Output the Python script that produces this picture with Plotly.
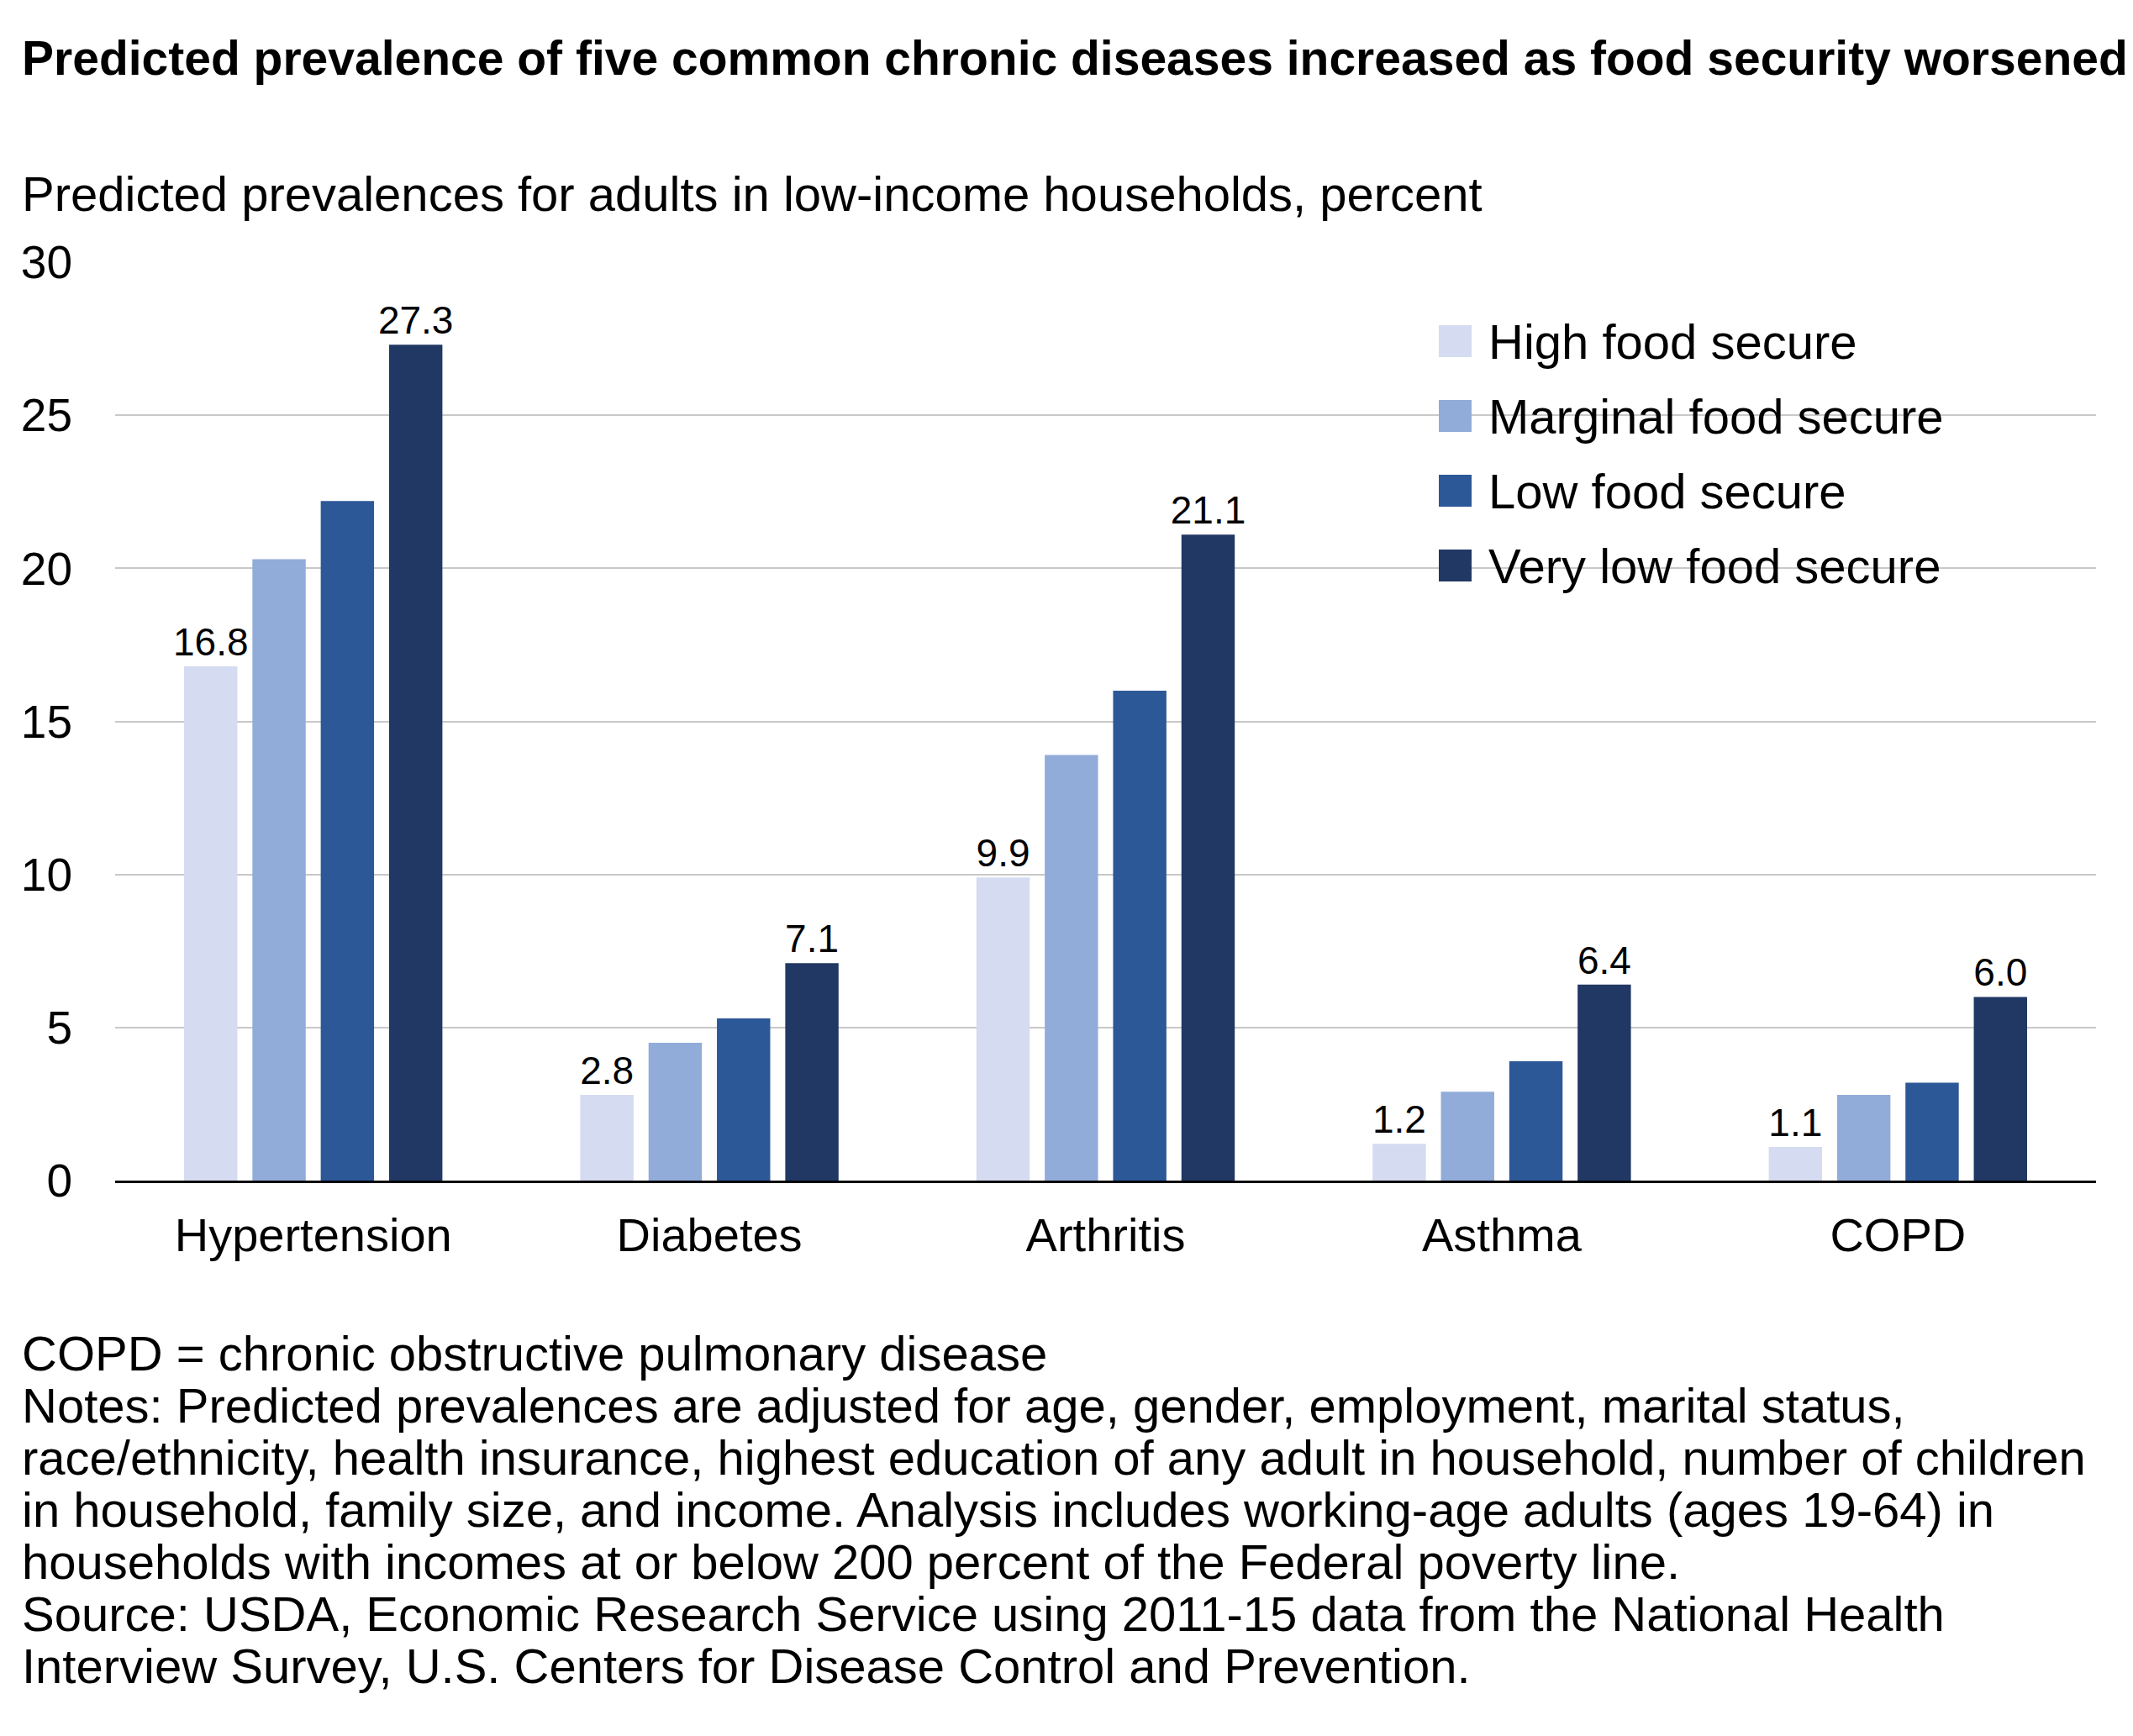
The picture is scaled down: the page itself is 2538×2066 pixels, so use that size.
import plotly.graph_objects as go

categories = ["Hypertension", "Diabetes", "Arthritis", "Asthma", "COPD"]
series_names = ["High food secure", "Marginal food secure", "Low food secure", "Very low food secure"]
high = [16.8, 2.8, 9.9, 1.2, 1.1]
marginal = [20.3, 4.5, 13.9, 2.9, 2.8]
low = [22.2, 5.3, 16.0, 3.9, 3.2]
very_low = [27.3, 7.1, 21.1, 6.4, 6.0]
colors = ["#d5dbf0", "#92acda", "#2c5898", "#213864"]
y_ticks = [0, 5, 10, 15, 20, 25, 30]
note_lines = [
    "COPD = chronic obstructive pulmonary disease",
    "Notes: Predicted prevalences are adjusted for age, gender, employment, marital status,",
    "race/ethnicity, health insurance, highest education of any adult in household, number of children",
    "in household, family size, and income. Analysis includes working-age adults (ages 19-64) in",
    "households with incomes at or below 200 percent of the Federal poverty line.",
    "Source: USDA, Economic Research Service using 2011-15 data from the National Health",
    "Interview Survey, U.S. Centers for Disease Control and Prevention.",
]

FONT = "Liberation Sans, Arial, sans-serif"
L, R, T, B = 129, 52, 304, 669
PW, PH = 2538 - L - R, 2066 - T - B
px = lambda X: (X - L) / PW
py = lambda Y: (2066 - B - Y) / PH

fig = go.Figure()
all_vals = [high, marginal, low, very_low]
for i, (name, vals) in enumerate(zip(series_names, all_vals)):
    show_text = i in (0, 3)
    fig.add_trace(go.Bar(
        x=categories, y=vals, name=name, marker_color=colors[i],
        marker_line_width=0, showlegend=False,
        text=[f"{v:.1f}" for v in vals] if show_text else None,
        textposition="outside", cliponaxis=False, constraintext="none",
        textfont=dict(size=46, color="black", family=FONT),
    ))

shapes, annotations = [], []
for i, name in enumerate(series_names):
    yc = 398 + 89 * i
    shapes.append(dict(type="rect", xref="paper", yref="paper",
                       x0=px(1704), x1=px(1743), y0=py(yc + 19), y1=py(yc - 19),
                       fillcolor=colors[i], line_width=0))
    annotations.append(dict(text=name, xref="paper", yref="paper", x=px(1761), y=py(yc),
                            xanchor="left", yanchor="middle", showarrow=False,
                            font=dict(size=58, family=FONT)))

annotations.append(dict(text="<b>Predicted prevalence of five common chronic diseases increased as food security worsened</b>",
                        xref="paper", yref="paper", x=px(16), y=py(61), xanchor="left", yanchor="middle",
                        showarrow=False, font=dict(size=57, family=FONT)))
annotations.append(dict(text="Predicted prevalences for adults in low-income households, percent",
                        xref="paper", yref="paper", x=px(16), y=py(222), xanchor="left", yanchor="middle",
                        showarrow=False, font=dict(size=58, family=FONT)))
for i, line in enumerate(note_lines):
    annotations.append(dict(text=line, xref="paper", yref="paper", x=px(16), y=py(1602 + 62 * i),
                            xanchor="left", yanchor="middle", showarrow=False,
                            font=dict(size=58, family=FONT)))

fig.update_layout(
    width=2538, height=2066, plot_bgcolor="white", paper_bgcolor="white",
    font=dict(family=FONT, color="black"),
    margin=dict(l=L, r=R, t=T, b=B),
    barmode="group", bargap=0.31, bargroupgap=0.22,
    showlegend=False,
    xaxis=dict(tickfont=dict(size=56), showline=True, linecolor="black", linewidth=3,
               ticks="", ticklabelstandoff=14),
    yaxis=dict(range=[0, 30], tickvals=y_ticks, tickfont=dict(size=55),
               gridcolor="#c8c8c8", gridwidth=2, zeroline=False, ticks="",
               ticklabelstandoff=50),
    shapes=shapes, annotations=annotations,
)
fig.write_html("out.html")
